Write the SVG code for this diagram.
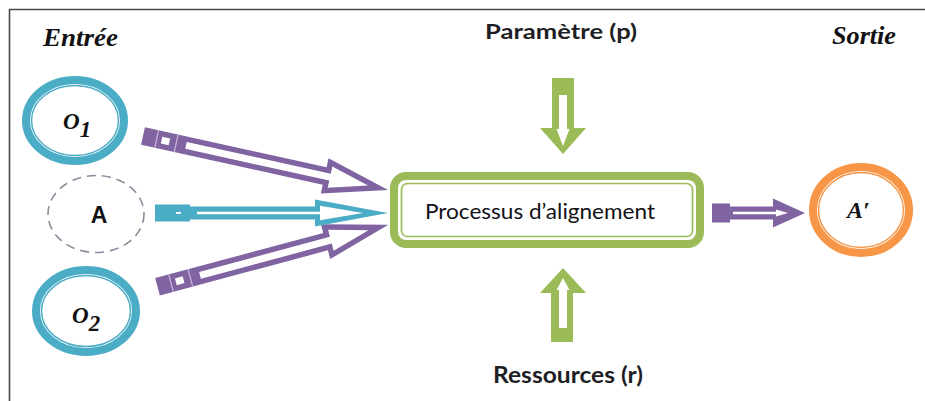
<svg xmlns="http://www.w3.org/2000/svg" width="925" height="401" viewBox="0 0 925 401">
<style>
.lab{font-family:Lato,"Liberation Sans",sans-serif;font-weight:bold;fill:#1e1e24;}
.it{font-family:"Liberation Serif","Times New Roman",serif;font-weight:bold;font-style:italic;fill:#111;}
.pur{fill:#8064A2;}
.tea{fill:#4BACC6;}
.grn{fill:#9BBB59;}
.wht{fill:#ffffff;}
.ringT{fill:none;stroke:#4BACC6;}
.ringO{fill:none;stroke:#F79646;}
</style>
<rect width="925" height="401" fill="#ffffff"/>
<path d="M9.5,401 V9.5 H925" fill="none" stroke="#4a4a4a" stroke-width="1.6"/>

<text class="it" x="43" y="46" font-size="26" textLength="75" lengthAdjust="spacingAndGlyphs">Entrée</text>
<text class="it" x="832" y="44" font-size="26" textLength="64" lengthAdjust="spacingAndGlyphs">Sortie</text>
<text class="lab" x="485" y="39" font-size="21" textLength="152" lengthAdjust="spacingAndGlyphs">Paramètre (p)</text>
<text class="lab" x="493" y="383" font-size="22" textLength="150" lengthAdjust="spacingAndGlyphs">Ressources (r)</text>

<g id="connectors">
  <!-- O1 -> process -->
  <g transform="translate(143,136) rotate(12.4)">
    <path class="pur" d="M0,-9 H186 V-18 L251,0 L186,18 V9 H0 Z"/>
    <rect x="19" y="-3.5" width="8" height="7" class="wht"/>
    <line x1="14" y1="-9" x2="14" y2="9" stroke="#c9b8e0" stroke-width="1.2"/>
    <line x1="34" y1="-9" x2="34" y2="9" stroke="#c9b8e0" stroke-width="1.2"/>
    <path class="wht" d="M44,-3.5 H191.5 V-10.8 L230.4,0 L191.5,10.8 V3.5 H44 Z"/>
  </g>
  <!-- O2 -> process -->
  <g transform="translate(157.5,286.7) rotate(-15)">
    <path class="pur" d="M0,-9 H174 V-18 L239,0 L174,18 V9 H0 Z"/>
    <rect x="19" y="-3.5" width="8" height="7" class="wht"/>
    <line x1="14" y1="-9" x2="14" y2="9" stroke="#c9b8e0" stroke-width="1.2"/>
    <line x1="34" y1="-9" x2="34" y2="9" stroke="#c9b8e0" stroke-width="1.2"/>
    <path class="wht" d="M44,-3.5 H179.5 V-10.8 L218.4,0 L179.5,10.8 V3.5 H44 Z"/>
  </g>
  <!-- A -> process -->
  <g>
    <path class="tea" d="M155,204.5 H190 V206.5 H315 V199.5 L388,213 L315,226.5 V219.5 H190 V221.5 H155 Z"/>
    <rect x="176" y="212" width="5" height="1.8" class="wht"/>
    <path class="wht" d="M197,211.8 H320 V205.8 L363,213 L320,220.2 V214.2 H197 Z"/>
  </g>
  <!-- process -> A' -->
  <g>
    <path class="pur" d="M712,203.5 H730 V206.5 H773 V198.5 L805,213 L773,227.5 V219.5 H730 V222.5 H712 Z"/>
    <path class="wht" d="M733,211.8 H776 V209.5 L788,213 L776,216.5 V214.2 H733 Z"/>
  </g>
  <!-- Paramètre -> process -->
  <g>
    <path class="grn" d="M552,78 H574 V128 H586 L563,154 L540,128 H552 Z"/>
    <path class="wht" d="M559,95 H567 V129 H569.5 L563,146 L556.5,129 H559 Z"/>
  </g>
  <!-- Ressources -> process -->
  <g>
    <path class="grn" d="M563,268 L586,293 H573 V342 H551 V293 H540 Z"/>
    <path class="wht" d="M563,278 L569.5,290 H567 V328 H559 V290 H556.5 Z"/>
  </g>
</g>

<g id="node-O1">
  <ellipse cx="75" cy="120.5" rx="49" ry="40.5" class="ringT" stroke-width="8"/>
  <ellipse cx="75" cy="120.5" rx="43.5" ry="35" class="ringT" stroke-width="1.5"/>
  <text class="it" x="63" y="129" font-size="23">O<tspan dy="8">1</tspan></text>
</g>
<g id="node-A">
  <ellipse cx="96" cy="214" rx="48" ry="38.5" fill="none" stroke="#8e8c9c" stroke-width="1.6" stroke-dasharray="9 6"/>
  <text x="99" y="223" font-size="23" text-anchor="middle" font-family="'Liberation Sans',Arial,sans-serif" font-weight="bold" fill="#111">A</text>
</g>
<g id="node-O2">
  <ellipse cx="86" cy="311" rx="50" ry="41" class="ringT" stroke-width="8"/>
  <ellipse cx="86" cy="311" rx="44.5" ry="35.5" class="ringT" stroke-width="1.5"/>
  <text class="it" x="72" y="323" font-size="23">O<tspan dy="8">2</tspan></text>
</g>
<g id="node-process">
  <rect x="394" y="176" width="306" height="68" rx="12" fill="#ffffff" stroke="#9BBB59" stroke-width="8"/>
  <rect x="401.5" y="183.5" width="291" height="53" rx="6" fill="#ffffff" stroke="#9BBB59" stroke-width="1.7"/>
  <text x="425" y="219" font-size="21" textLength="230" lengthAdjust="spacingAndGlyphs" font-family="Lato,'Liberation Sans',sans-serif" fill="#111116">Processus d’alignement</text>
</g>
<g id="node-Aprime">
  <ellipse cx="861" cy="210" rx="48" ry="43" class="ringO" stroke-width="8"/>
  <ellipse cx="861" cy="210" rx="42.5" ry="37.5" class="ringO" stroke-width="1.5"/>
  <text class="it" x="847" y="218" font-size="24">A′</text>
</g>
</svg>
